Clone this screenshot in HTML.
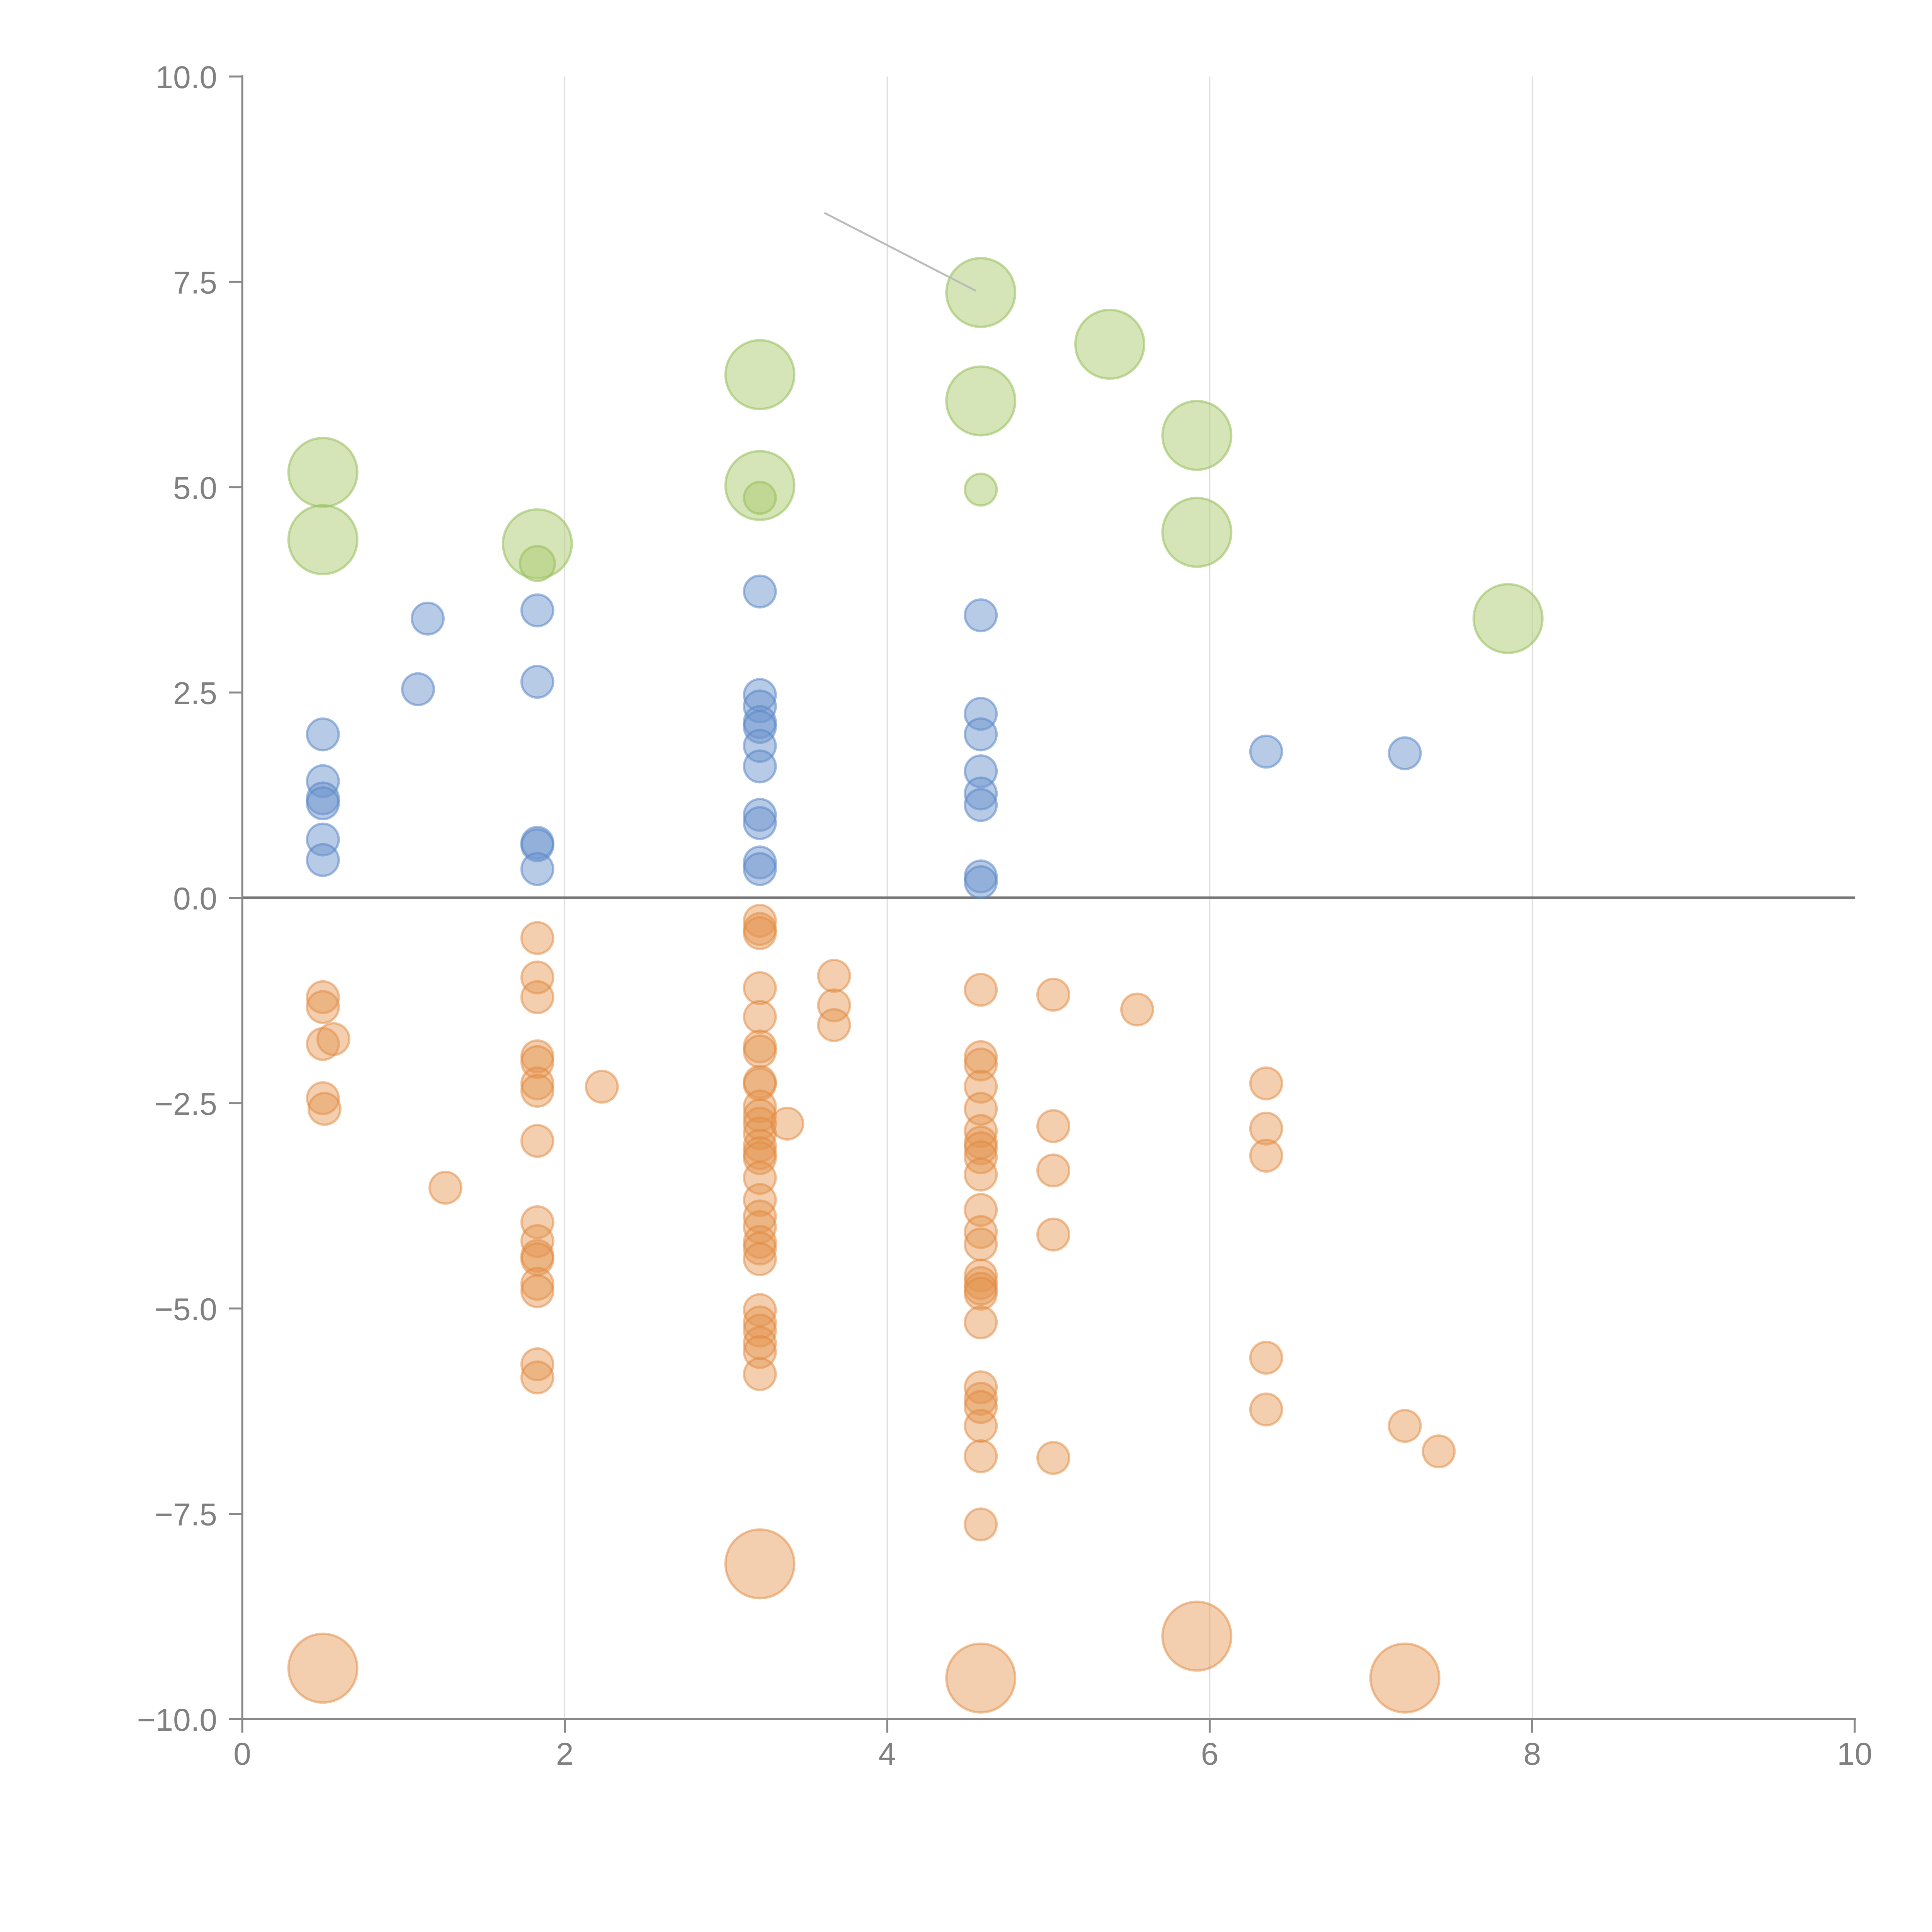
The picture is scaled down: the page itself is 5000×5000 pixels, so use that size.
<!DOCTYPE html>
<html><head><meta charset="utf-8"><style>
html,body{margin:0;padding:0;background:#fff;}
svg{display:block;font-family:"Liberation Sans",Arial,sans-serif;}
</style></head><body>
<svg id="chart" width="5000" height="5000" viewBox="0 0 5000 5000" xmlns="http://www.w3.org/2000/svg">
<rect width="5000" height="5000" fill="#fff"/>
<g id="grid"></g>
<g id="marks"></g>
<g id="axes"></g>
</svg>
<script>
const xTicks = [0, 2, 4, 6, 8, 10];
const yTicks = [10, 7.5, 5, 2.5, 0, -2.5, -5, -7.5, -10];
const yTickLabels = ["10.0", "7.5", "5.0", "2.5", "0.0", "\u22122.5", "\u22125.0", "\u22127.5", "\u221210.0"];

const greenX = [0.5, 0.5, 1.83, 1.83, 3.21, 3.21, 3.21, 4.58, 4.58, 4.58, 5.38, 5.92, 5.92, 7.85];
const greenY = [5.18, 4.36, 4.31, 4.07, 6.37, 5.02, 4.87, 7.37, 6.05, 4.97, 6.74, 5.63, 4.45, 3.40];
const greenS = [3, 3, 3, 1.1, 3, 3, 1, 3, 3, 1, 3, 3, 3, 3];

const blueX = [0.5, 0.5, 0.5, 0.5, 0.5, 0.5, 1.15, 1.09, 1.83, 1.83, 1.83, 1.83, 1.83,
  3.21, 3.21, 3.21, 3.21, 3.21, 3.21, 3.21, 3.21, 3.21, 3.21, 3.21,
  4.58, 4.58, 4.58, 4.58, 4.58, 4.58, 4.58, 4.58, 6.35, 7.21];
const blueY = [1.99, 1.42, 1.21, 1.15, 0.71, 0.46, 3.40, 2.54, 3.50, 2.63, 0.67, 0.64, 0.35,
  3.73, 2.47, 2.33, 2.14, 2.08, 1.85, 1.60, 1.01, 0.91, 0.43, 0.35,
  3.44, 2.24, 1.99, 1.54, 1.27, 1.13, 0.26, 0.19, 1.78, 1.76];

// orange, grouped by column
const oX1 = [0.5, 0.5, 0.5, 0.5, 0.51, 0.565, 1.26, 2.23];
const oY1 = [-1.21, -1.33, -1.78, -2.44, -2.57, -1.72, -3.53, -2.30];
const oX2 = [1.83, 1.83, 1.83, 1.83, 1.83, 1.83, 1.83, 1.83, 1.83, 1.83, 1.83, 1.83, 1.83, 1.83, 1.83, 1.83];
const oY2 = [-0.49, -0.97, -1.21, -1.93, -2.00, -2.26, -2.35, -2.96, -3.95, -4.18, -4.36, -4.40, -4.70, -4.79, -5.68, -5.84];
const oX3 = [3.21, 3.21, 3.21, 3.21, 3.21, 3.21, 3.21, 3.21, 3.21, 3.21,
  3.21, 3.21, 3.21, 3.21, 3.21, 3.21, 3.21, 3.21, 3.21, 3.21,
  3.21, 3.21, 3.21, 3.21, 3.21, 3.21, 3.21, 3.21, 3.21];
const oY3 = [-0.28, -0.38, -0.43, -1.10, -1.45, -1.81, -1.87, -2.24, -2.27, -2.54,
  -2.65, -2.75, -2.87, -3.02, -3.11, -3.17, -3.41, -3.68, -3.88, -4.01,
  -4.19, -4.27, -4.40, -5.02, -5.17, -5.27, -5.42, -5.53, -5.80];
const oX4 = [3.38, 3.67, 3.67, 3.67];
const oY4 = [-2.75, -0.95, -1.31, -1.55];
const oX5 = [4.58, 4.58, 4.58, 4.58, 4.58, 4.58, 4.58, 4.58, 4.58, 4.58, 4.58, 4.58,
  4.58, 4.58, 4.58, 4.58, 4.58, 4.58, 4.58, 4.58, 4.58, 4.58, 4.58, 4.58];
const oY5 = [-1.12, -1.94, -2.03, -2.30, -2.57, -2.84, -2.98, -3.05, -3.16, -3.37, -3.80, -4.07,
  -4.22, -4.60, -4.69, -4.76, -4.82, -5.17, -5.96, -6.10, -6.20, -6.43, -6.80, -7.63];
const oX6 = [5.03, 5.03, 5.03, 5.03, 5.03, 5.55, 6.35, 6.35, 6.35, 6.35, 6.35, 7.21, 7.42];
const oY6 = [-1.18, -2.78, -3.32, -4.10, -6.82, -1.36, -2.26, -2.81, -3.14, -5.60, -6.23, -6.43, -6.74];
const oXL = [0.5, 3.21, 4.58, 5.92, 7.21];
const oYL = [-9.38, -8.11, -9.50, -8.99, -9.50];

const annotX = [3.61, 4.55];
const annotY = [8.34, 7.39];

const X0 = 627, X1 = 4800, YT = 198, YB = 4449;
function sx(v){ return X0 + v / 10 * (X1 - X0); }
function sy(v){ return YB - (v + 10) / 20 * (YB - YT); }
function rr(s){ return s >= 3 ? 89 : 41 * s; }
const NS = "http://www.w3.org/2000/svg";
function mk(tag, attrs, parent){
  const el = document.createElementNS(NS, tag);
  for (const k in attrs) el.setAttribute(k, attrs[k]);
  parent.appendChild(el);
  return el;
}
const grid = document.getElementById('grid');
const marks = document.getElementById('marks');
const axes = document.getElementById('axes');

xTicks.forEach(t => {
  if (t === 0 || t === 10) return;
  const l = mk('line', {x1: sx(t), x2: sx(t), y1: YT, y2: YB, stroke: '#dcdcdc', 'stroke-width': 3}, grid);
  
  
});
const zl = mk('line', {x1: X0, x2: X1, y1: sy(0), y2: sy(0), stroke: '#777', 'stroke-width': 7}, grid);



function series(xs, ys, size, fill, stroke, name){
  const g = mk('g', {}, marks);
  
  
  xs.forEach((x, i) => {
    const s = Array.isArray(size) ? size[i] : size;
    const c = mk('circle', {cx: sx(x), cy: sy(ys[i]), r: rr(s), fill: fill, stroke: stroke, 'stroke-width': 6}, g);
    
    
  });
}
const OF = 'rgba(228,148,80,0.45)', OS = 'rgba(225,135,60,0.5)';
series(greenX, greenY, greenS, 'rgba(172,203,112,0.5)', 'rgba(150,190,90,0.55)', 'green');
series(blueX, blueY, 1, 'rgba(112,150,205,0.5)', 'rgba(90,135,200,0.55)', 'blue');
series(oX1, oY1, 1, OF, OS, 'orange');
series(oX2, oY2, 1, OF, OS, 'orange');
series(oX3, oY3, 1, OF, OS, 'orange');
series(oX4, oY4, 1, OF, OS, 'orange');
series(oX5, oY5, 1, OF, OS, 'orange');
series(oX6, oY6, 1, OF, OS, 'orange');
series(oXL, oYL, 3, OF, OS, 'orange-large');

const al = mk('line', {x1: sx(annotX[0]), y1: sy(annotY[0]), x2: sx(annotX[1]), y2: sy(annotY[1]), stroke: '#bbb', 'stroke-width': 5}, marks);



const ly = mk('line', {x1: X0, x2: X0, y1: YT - 3, y2: YB + 3, stroke: '#888', 'stroke-width': 5}, axes);


const lx = mk('line', {x1: X0 - 3, x2: X1 + 3, y1: YB, y2: YB, stroke: '#888', 'stroke-width': 5}, axes);



yTicks.forEach((t, i) => {
  const y = sy(t);
  const tk = mk('line', {x1: X0 - 35, x2: X0, y1: y, y2: y, stroke: '#888', 'stroke-width': 5}, axes);
  
  
  const tx = mk('text', {x: 562, y: y + 30, 'text-anchor': 'end', 'font-size': 82, fill: '#808080'}, axes);
  tx.textContent = yTickLabels[i];
  
  
});
xTicks.forEach(t => {
  const x = sx(t);
  const tk = mk('line', {x1: x, x2: x, y1: YB, y2: YB + 35, stroke: '#888', 'stroke-width': 5}, axes);
  
  
  const tx = mk('text', {x: x, y: 4567, 'text-anchor': 'middle', 'font-size': 82, fill: '#808080'}, axes);
  tx.textContent = String(t);
  
  
});
</script>
</body></html>
